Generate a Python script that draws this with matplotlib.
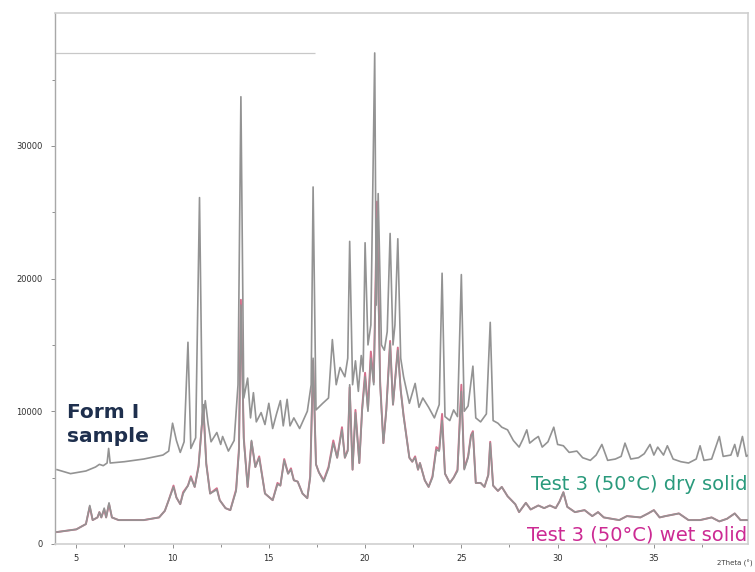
import matplotlib.pyplot as plt
from matplotlib.ticker import MultipleLocator, FixedLocator

# Form I reference pattern (upper trace)
form1_2theta = [4.0, 4.7, 5.5, 6.0, 6.2, 6.4, 6.6, 6.68, 6.76, 7.5, 8.5, 9.5, 9.8, 10.0, 10.2,
                10.4, 10.6, 10.8, 10.95, 11.2, 11.4, 11.55, 11.7, 11.85, 12.0, 12.3, 12.5, 12.6,
                12.9, 13.2, 13.4, 13.55, 13.7, 13.9, 14.05, 14.2, 14.35, 14.6, 14.8, 15.0, 15.2,
                15.4, 15.6, 15.75, 15.95, 16.1, 16.3, 16.6, 17.0, 17.2, 17.3, 17.45, 17.8, 18.1,
                18.3, 18.5, 18.7, 18.95, 19.1, 19.2, 19.35, 19.5, 19.65, 19.8, 19.9, 20.0, 20.15,
                20.3, 20.5, 20.58, 20.68, 20.85, 21.0, 21.15, 21.3, 21.45, 21.55, 21.7, 21.85,
                22.0, 22.3, 22.6, 22.8, 23.0, 23.3, 23.6, 23.85, 24.0, 24.15, 24.4, 24.6, 24.8,
                25.0, 25.15, 25.35, 25.6, 25.75, 26.0, 26.3, 26.5, 26.65, 26.9, 27.1, 27.4, 27.7,
                28.0, 28.2, 28.4, 28.55, 28.8, 29.0, 29.2, 29.5, 29.8, 30.0, 30.3, 30.6, 31.0,
                31.3, 31.7, 32.0, 32.3, 32.6, 33.0, 33.3, 33.5, 33.8, 34.2, 34.5, 34.8, 35.0,
                35.2, 35.5, 35.7, 36.0, 36.4, 36.8, 37.2, 37.4, 37.6, 38.0, 38.4, 38.6, 39.0,
                39.2, 39.35, 39.6, 39.8, 40.0]
form1_counts = [5600, 5300, 5500, 5800, 6000, 5900, 6100, 7200, 6100, 6200, 6400, 6700, 7000, 9100, 7800,
                6900, 7700, 15200, 7200, 8000, 26100, 9000, 10800, 9000, 7700, 8400, 7500, 8100,
                7000, 7800, 12000, 33700, 11000, 12500, 9500, 11400, 9200, 9900, 9000, 10600, 8700,
                9800, 10800, 8900, 10900, 8900, 9500, 8700, 10000, 12000, 26900, 10100, 10600, 11000,
                15400, 12000, 13300, 12600, 14000, 22800, 12000, 13800, 11500, 14200, 13000, 22700, 15000,
                16500, 37000, 18000, 26400, 15000, 14600, 16000, 23400, 15000, 16500, 23000, 14000,
                12600, 10600, 12100, 10300, 11000, 10300, 9500, 10500, 20400, 9600, 9300, 10100, 9600,
                20300, 10000, 10400, 13400, 9500, 9200, 9800, 16700, 9300, 9100, 8800, 8600, 7800,
                7300, 7900, 8600, 7600, 7900, 8100, 7300, 7700, 8800, 7500, 7400, 6900, 7000,
                6500, 6300, 6700, 7500, 6300, 6400, 6600, 7600, 6400, 6500, 6800, 7500, 6700,
                7300, 6700, 7400, 6400, 6200, 6100, 6400, 7400, 6300, 6400, 8100, 6600, 6700,
                7500, 6600, 8100, 6600, 6800]

# Test 3 (50 C) solids, dry and wet share the same angle grid
test3_2theta = [4.0, 5.0, 5.5, 5.7, 5.85, 6.1, 6.2, 6.3, 6.45, 6.55, 6.7, 6.85, 7.2, 8.5, 9.3,
                9.6, 9.8, 10.05, 10.2, 10.4, 10.55, 10.8, 10.95, 11.15, 11.35, 11.6, 11.75, 11.95,
                12.3, 12.45, 12.75, 13.0, 13.3, 13.45, 13.55, 13.7, 13.9, 14.1, 14.3, 14.5, 14.8,
                15.2, 15.45, 15.6, 15.8, 16.0, 16.15, 16.3, 16.5, 16.75, 17.0, 17.15, 17.3, 17.45,
                17.6, 17.85, 18.1, 18.35, 18.55, 18.8, 18.95, 19.1, 19.2, 19.35, 19.5, 19.7, 19.85,
                20.0, 20.15, 20.3, 20.45, 20.62, 20.78, 20.95, 21.1, 21.3, 21.45, 21.7, 21.85, 22.0,
                22.3, 22.45, 22.6, 22.75, 22.85, 23.1, 23.3, 23.5, 23.7, 23.85, 24.0, 24.15, 24.4,
                24.6, 24.8, 25.0, 25.15, 25.35, 25.5, 25.6, 25.75, 26.0, 26.2, 26.4, 26.5, 26.65,
                26.9, 27.1, 27.4, 27.8, 28.0, 28.35, 28.6, 29.0, 29.3, 29.6, 29.9, 30.1, 30.3,
                30.5, 30.9, 31.4, 31.8, 32.1, 32.4, 33.2, 33.6, 34.3, 34.7, 35.0, 35.3, 35.6,
                36.3, 36.8, 37.4, 38.0, 38.4, 38.8, 39.2, 39.5, 40.0]
dry_counts = [900, 1100, 1500, 2900, 1800, 2000, 2400, 2000, 2700, 2000, 3100, 2000, 1800, 1800, 2000,
              2500, 3300, 4300, 3500, 3000, 3800, 4400, 5000, 4300, 5800, 10500, 6000, 3800,
              4100, 3300, 2700, 2550, 4000, 7000, 18000, 7800, 4300, 7800, 5800, 6500, 3800,
              3300, 4500, 4400, 6300, 5300, 5600, 4800, 4700, 3800, 3450, 5000, 14000, 6000,
              5400, 4700, 5700, 7600, 6500, 8600, 6500, 7000, 12000, 5600, 9900, 6100, 10100,
              12600, 10000, 14000, 12000, 24500, 12000, 7600, 10000, 15100, 10500, 14600, 11600, 9600,
              6500, 6200, 6500, 5600, 6100, 4800, 4300, 5000, 7100, 7000, 9300, 5300, 4600,
              5000, 5500, 11500, 5600, 6500, 8100, 8400, 4600, 4600, 4300, 5200, 7600, 4400,
              4000, 4300, 3600, 3000, 2400, 3100, 2600, 2900, 2700, 2900, 2700, 3200, 3900,
              2800, 2400, 2550, 2100, 2400, 2000, 1800, 2100, 2000, 2300, 2550, 2000, 2100,
              2300, 1800, 1800, 2000, 1700, 1900, 2300, 1800, 1800]
wet_counts = [900, 1100, 1500, 2800, 1800, 2000, 2400, 2000, 2600, 2000, 3000, 2000, 1800, 1800, 2000,
              2500, 3300, 4400, 3500, 3000, 3900, 4400, 5100, 4300, 5900, 10300, 6100, 3800,
              4200, 3300, 2700, 2550, 4100, 7200, 18400, 8000, 4300, 7700, 5800, 6600, 3800,
              3300, 4600, 4400, 6400, 5300, 5700, 4800, 4700, 3800, 3450, 5100, 13800, 6000,
              5400, 4800, 5800, 7800, 6500, 8800, 6500, 7100, 11800, 5600, 10100, 6100, 10300,
              12900, 10200, 14500, 12200, 25800, 12300, 7600, 10100, 15300, 10500, 14800, 11600, 9700,
              6500, 6200, 6600, 5600, 6100, 4800, 4300, 5100, 7300, 7100, 9800, 5300, 4600,
              5000, 5600, 12000, 5700, 6600, 8200, 8500, 4600, 4600, 4300, 5200, 7700, 4400,
              4000, 4300, 3600, 3000, 2400, 3100, 2600, 2900, 2700, 2900, 2700, 3200, 3900,
              2800, 2400, 2550, 2100, 2400, 2000, 1800, 2100, 2000, 2300, 2550, 2000, 2100,
              2300, 1800, 1800, 2000, 1700, 1900, 2300, 1800, 1800]

fig = plt.figure(figsize=(7.55, 5.72), dpi=100)
ax = fig.add_axes([0.073, 0.049, 0.918, 0.928])

ax.plot(test3_2theta, wet_counts, color='#d4708c', lw=1.4, zorder=2)
ax.plot(test3_2theta, dry_counts, color='#939393', lw=1.2, zorder=3)
ax.plot(form1_2theta, form1_counts, color='#939393', lw=1.2, zorder=3)

# marker line at the top of the strongest reflection
ax.hlines(37000, 3.9, 17.4, color='#c8c8c8', lw=0.9)

ax.set_xlim(3.9, 39.9)
ax.set_ylim(0, 40000)
ax.xaxis.set_major_locator(MultipleLocator(5))
ax.xaxis.set_minor_locator(MultipleLocator(2.5))
ax.yaxis.set_major_locator(FixedLocator([0, 10000, 20000, 30000]))
ax.yaxis.set_minor_locator(FixedLocator([5000, 15000, 25000, 35000]))
ax.tick_params(which='both', direction='out', length=3, width=0.7, color='#909090',
               labelsize=6, labelcolor='#303030')
ax.tick_params(axis='y', pad=6)
ax.tick_params(axis='x', pad=4)
ax.tick_params(which='minor', length=2)

for side in ['top', 'right', 'bottom']:
    ax.spines[side].set_color('#cfcfcf')
    ax.spines[side].set_linewidth(1.2)
ax.spines['left'].set_color('#a8a8a8')
ax.spines['left'].set_linewidth(1.0)

ax.text(4.5, 9000, 'Form I\nsample', fontsize=14.5, color='#1e2f4d', fontweight='semibold',
        va='center', ha='left', linespacing=1.3)
ax.text(39.85, 4450, 'Test 3 (50°C) dry solid', fontsize=14, color='#2a9a7c',
        ha='right', va='center')
ax.text(39.85, 650, 'Test 3 (50°C) wet solid', fontsize=14, color='#cc2a93',
        ha='right', va='center', clip_on=False)
fig.text(0.997, 0.008, '2Theta (°)', fontsize=5, color='#404040', ha='right', va='bottom')

fig.savefig('out.png', dpi=100, facecolor='white')
